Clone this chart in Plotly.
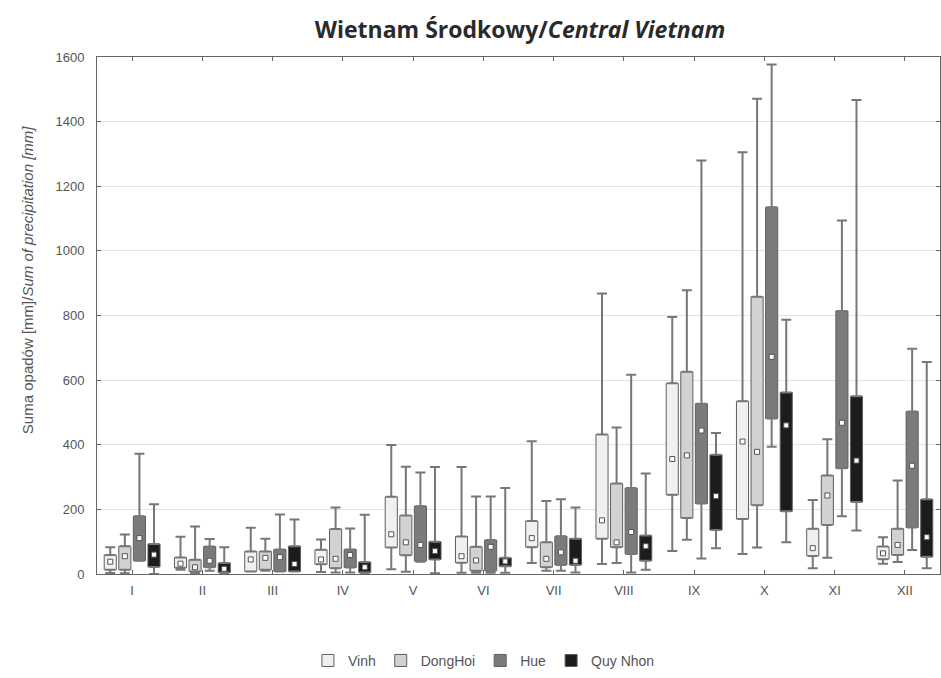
import plotly.graph_objects as go

months = ["I", "II", "III", "IV", "V", "VI", "VII", "VIII", "IX", "X", "XI", "XII"]
stations = ["Vinh", "DongHoi", "Hue", "Quy Nhon"]

# Vinh
vinh_min = [3, 13, 8, 6, 15, 4, 34, 31, 71, 62, 18, 32]
vinh_q1 = [13, 19, 8, 30, 82, 35, 83, 109, 245, 170, 56, 46]
vinh_med = [38, 32, 45, 45, 123, 55, 111, 166, 356, 410, 80, 64]
vinh_q3 = [59, 51, 70, 75, 239, 116, 164, 432, 590, 535, 140, 85]
vinh_max = [83, 115, 143, 107, 399, 331, 411, 868, 795, 1305, 229, 114]

# DongHoi
dh_min = [2, 2, 10, 5, 7, 4, 10, 34, 106, 82, 50, 37]
dh_q1 = [13, 8, 13, 18, 58, 10, 21, 83, 173, 213, 152, 59]
dh_med = [55, 21, 50, 47, 98, 42, 47, 98, 367, 378, 243, 90]
dh_q3 = [86, 44, 70, 139, 181, 84, 98, 280, 626, 858, 305, 140]
dh_max = [122, 147, 109, 206, 332, 240, 226, 453, 878, 1471, 417, 289]

# Hue
hue_min = [41, 10, 8, 5, 38, 4, 10, 5, 48, 394, 179, 74]
hue_q1 = [41, 21, 8, 20, 40, 10, 28, 62, 218, 481, 327, 144]
hue_med = [111, 41, 52, 59, 90, 84, 67, 130, 444, 672, 468, 335]
hue_q3 = [179, 85, 76, 76, 210, 105, 117, 266, 527, 1135, 814, 503]
hue_max = [372, 108, 184, 141, 314, 240, 231, 617, 1280, 1577, 1094, 697]

# Quy Nhon
qn_min = [0, 0, 8, 2, 2, 4, 5, 13, 80, 98, 135, 18]
qn_q1 = [22, 5, 8, 5, 45, 24, 28, 41, 136, 194, 223, 53]
qn_med = [60, 16, 31, 21, 71, 39, 41, 86, 241, 460, 351, 114]
qn_q3 = [93, 34, 86, 37, 100, 50, 109, 119, 369, 562, 550, 231]
qn_max = [216, 83, 169, 183, 331, 266, 206, 311, 436, 787, 1467, 656]

series = [
    ("Vinh", vinh_min, vinh_q1, vinh_med, vinh_q3, vinh_max),
    ("DongHoi", dh_min, dh_q1, dh_med, dh_q3, dh_max),
    ("Hue", hue_min, hue_q1, hue_med, hue_q3, hue_max),
    ("Quy Nhon", qn_min, qn_q1, qn_med, qn_q3, qn_max),
]

fills = {"Vinh": "#f0f0f0", "DongHoi": "#d2d2d2", "Hue": "#7b7b7b", "Quy Nhon": "#1c1c1c"}
edge = "#5f5f5f"
whisk = "#777777"

fig = go.Figure()
for name, mn, q1, med, q3, mx in series:
    # box body (q1..q3) with upper whisker as error bar
    fig.add_trace(go.Bar(
        x=months, base=q1, y=[b - a for a, b in zip(q1, q3)],
        offsetgroup=name, name=name, legendgroup=name,
        marker=dict(color=fills[name], line=dict(color=edge, width=1)),
        error_y=dict(type="data", symmetric=False,
                     array=[b - a for a, b in zip(q3, mx)],
                     arrayminus=[0] * len(q3),
                     color=whisk, thickness=2, width=5),
    ))
    # lower whisker anchored at q1
    fig.add_trace(go.Bar(
        x=months, base=q1, y=[0] * len(q1),
        offsetgroup=name, showlegend=False, legendgroup=name,
        marker=dict(color="rgba(0,0,0,0)", line=dict(width=0)),
        error_y=dict(type="data", symmetric=False,
                     array=[0] * len(q1),
                     arrayminus=[a - b for a, b in zip(q1, mn)],
                     color=whisk, thickness=2, width=5),
        hoverinfo="skip",
    ))
    # median marker
    fig.add_trace(go.Scatter(
        x=months, y=med, mode="markers", offsetgroup=name,
        showlegend=False, legendgroup=name,
        marker=dict(symbol="square", size=5, color="white",
                    line=dict(color="#555555", width=1)),
    ))

fig.update_layout(
    width=941, height=678,
    margin=dict(l=97, r=1, t=57, b=102),
    paper_bgcolor="white", plot_bgcolor="white",
    barmode="group", bargap=0.17, bargroupgap=0.17,
    scattermode="group", scattergap=0.17,
    font=dict(family="Liberation Sans, Arial, sans-serif", color="#555555", size=13),
    title=dict(
        text="<b>Wietnam Środkowy/<i>Central Vietnam</i></b>",
        font=dict(family="Open Sans, sans-serif", size=23, color="#2a2a2a"),
        x=520 / 941, xanchor="center", xref="container",
        y=1 - 30 / 678, yanchor="middle", yref="container",
    ),
    showlegend=True,
    legend=dict(orientation="h", x=0.459, xanchor="center", y=-0.168, yanchor="middle",
                font=dict(size=14, color="#555555"), itemwidth=30,
                traceorder="normal"),
    annotations=[dict(
        text="Suma opadów [mm]/<i>Sum of precipitation [mm]</i>",
        textangle=-90, showarrow=False,
        xref="paper", x=(27 - 97) / 843, xanchor="center",
        yref="paper", y=(576 - 281) / 519, yanchor="middle",
        font=dict(size=15, color="#555555"),
    )],
)
fig.update_xaxes(
    type="category", range=[-0.5, 11.5],
    showline=True, linecolor="#666666", linewidth=1, mirror="ticks",
    ticks="inside", ticklen=4, tickcolor="#666666",
    showgrid=False, tickfont=dict(size=13, color="#555555"),
    ticklabelstandoff=4,
)
fig.update_yaxes(
    range=[0, 1600], dtick=200,
    showline=True, linecolor="#666666", linewidth=1, mirror="ticks",
    ticks="inside", ticklen=4, tickcolor="#666666",
    showgrid=True, gridcolor="#e2e2e2", gridwidth=1, zeroline=False,
    tickfont=dict(size=13, color="#555555"),
    ticklabelstandoff=9,
)

fig.write_html("out.html")
